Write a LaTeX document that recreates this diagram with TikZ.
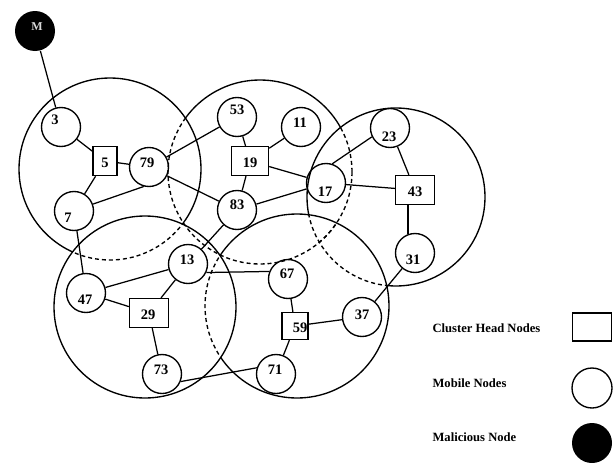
\documentclass[tikz,border=0pt]{standalone}
\usepackage{fontspec}
\setmainfont{Liberation Serif}
\newcommand{\holeclip}[2]{\clip (-10,-10) -- (630,-10) -- (630,480) -- (-10,480) -- cycle ([xshift=#2pt]#1) arc[start angle=0,end angle=-360,radius=#2];}
\begin{document}
\begin{tikzpicture}[x=1pt,y=-1pt,line width=1.2pt,
 big/.style={line width=1.35pt},
 dsh/.style={line width=1.35pt,dash pattern=on 4pt off 3pt},
 mob/.style={circle,draw,line width=1.35pt,minimum size=39pt,inner sep=0pt},
 ch/.style={rectangle,draw,line width=1.35pt,fill=white,minimum width=38pt,minimum height=29pt,inner sep=0pt},
 mal/.style={circle,fill=black,minimum size=40pt,inner sep=0pt},
 num/.style={font=\fontsize{14.5}{16}\selectfont\bfseries,inner sep=0pt},
 leg/.style={font=\fontsize{12.6}{14}\selectfont\bfseries,inner sep=0pt},
 link/.style={line width=1.25pt}]
\useasboundingbox (0,0) rectangle (616,463);
% cluster centres
\coordinate (cA) at (110,169);
\coordinate (cB) at (260,172);
\coordinate (cC) at (396,197);
\coordinate (cD) at (145,307);
\coordinate (cE) at (297,306);
% circle A: solid outside D, dashed inside D
\begin{scope}\holeclip{cD}{91}\draw[big] (cA) circle[radius=91];\end{scope}
\begin{scope}\clip (cD) circle[radius=91];\draw[dsh] (cA) circle[radius=91];\end{scope}
% circle B: dashed inside A, C, D, E
\begin{scope}\holeclip{cA}{91}\holeclip{cC}{89}\holeclip{cD}{91}\holeclip{cE}{92}\draw[big] (cB) circle[radius=92];\end{scope}
\begin{scope}\clip (cA) circle[radius=91];\draw[dsh] (cB) circle[radius=92];\end{scope}
\begin{scope}\clip (cC) circle[radius=89];\draw[dsh] (cB) circle[radius=92];\end{scope}
\begin{scope}\clip (cD) circle[radius=91];\draw[dsh] (cB) circle[radius=92];\end{scope}
\begin{scope}\clip (cE) circle[radius=92];\draw[dsh] (cB) circle[radius=92];\end{scope}
% circle C: dashed inside E
\begin{scope}\holeclip{cE}{92}\draw[big] (cC) circle[radius=89];\end{scope}
\begin{scope}\clip (cE) circle[radius=92];\draw[dsh] (cC) circle[radius=89];\end{scope}
% circle D: solid
\draw[big] (cD) circle[radius=91];
% circle E: dashed inside D
\begin{scope}\holeclip{cD}{91}\draw[big] (cE) circle[radius=92];\end{scope}
\begin{scope}\clip (cD) circle[radius=91];\draw[dsh] (cE) circle[radius=92];\end{scope}

% nodes
\node[mal] (nM) at (35,31) {};
\node[font=\fontsize{12}{14}\selectfont\bfseries,text=white!85!black,inner sep=0pt] (tM) at (37,27) {M};
\node[mob,label={[num,xshift=-6pt,yshift=7pt]center:3}] (n3) at (61,127) {};
\node[ch,minimum width=24pt,label={[num,yshift=-2pt]center:5}] (n5) at (105,161) {};
\node[mob,label={[num,xshift=-2pt,yshift=4pt]center:79}] (n79) at (149,167) {};
\node[mob,label={[num,xshift=-6pt,yshift=-7pt]center:7}] (n7) at (74,211) {};
\node[mob,label={[num,yshift=7pt]center:53}] (n53) at (237,117) {};
\node[mob,label={[num,xshift=-1pt,yshift=4pt]center:11}] (n11) at (301,127) {};
\node[ch,minimum width=37pt,label={[num,yshift=-2pt]center:19}] (n19) at (250,161) {};
\node[mob,label={[num,yshift=5pt]center:83}] (n83) at (237,210) {};
\node[mob,label={[num,xshift=-1pt,yshift=-9pt]center:23}] (n23) at (390,128) {};
\node[mob,label={[num,xshift=-1pt,yshift=-9pt]center:17}] (n17) at (326,183) {};
\node[ch,minimum width=39pt,label={[num,yshift=-2pt]center:43}] (n43) at (415,190) {};
\node[mob,label={[num,xshift=-2pt,yshift=-7pt]center:31}] (n31) at (415,253) {};
\node[mob,label={[num,yshift=2pt]center:37}] (n37) at (362,317) {};
\node[mob,label={[num,xshift=-1pt,yshift=4pt]center:13}] (n13) at (188,264) {};
\node[mob,label={[num,xshift=-1pt,yshift=-7pt]center:47}] (n47) at (86,293) {};
\node[ch,minimum width=39pt,label={[num,xshift=-1pt,yshift=-2pt]center:29}] (n29) at (149,313) {};
\node[mob,label={[num,xshift=-1pt,yshift=4pt]center:73}] (n73) at (162,374) {};
\node[mob,label={[num,xshift=-1pt,yshift=5pt]center:67}] (n67) at (288,279) {};
\node[ch,minimum width=26pt,minimum height=27pt,label={[num,xshift=5pt,yshift=-2pt]center:59}] (n59) at (295,326) {};
\node[mob,label={[num,xshift=-1pt,yshift=4pt]center:71}] (n71) at (276,374) {};

% links
\draw[link] (nM) -- (n3);
\draw[link] (n3) -- (n5);
\draw[link] (n5) -- (n79);
\draw[link] (n5) -- (n7);
\draw[link] (n7.20) -- (n79.255);
\draw[link] (n7) -- (n47);
\draw[link] (n79) -- (n53);
\draw[link] (n79) -- (n83);
\draw[link] (n53) -- (n19);
\draw[link] (n19) -- (n11);
\draw[link] (n19) -- (n83);
\draw[link] (n19) -- (n17);
\draw[link] (n83) -- (n17);
\draw[link] (n17.72) -- (n23.206);
\draw[link] (n17) -- (n43);
\draw[link] (n23) -- (n43);
\draw[link] (n31.110) -- (n31.110 |- n43.south);
\draw[link] (n31) -- (n37);
\draw[link] (n37) -- (n59);
\draw[link] (n59) -- (n67);
\draw[link] (n59) -- (n71);
\draw[link] (n73.-22) -- (n71.162);
\draw[link] (n73) -- (n29);
\draw[link] (n29) -- (n47);
\draw[link] (n29) -- (n13);
\draw[link] (n47) -- (n13);
\draw[link] (n13) -- (n83);
\draw[link] (n13.-25) -- (n67.158);

% legend
\node[leg,anchor=west] (l1) at (432,328) {Cluster Head Nodes};
\node[leg,anchor=west] (l2) at (432,383) {Mobile Nodes};
\node[leg,anchor=west] (l3) at (432,437) {Malicious Node};
\node[ch,minimum width=39pt,minimum height=28pt] (k1) at (592,327) {};
\node[mob,minimum size=40pt] (k2) at (592,388) {};
\node[mal] (k3) at (592,443) {};
\end{tikzpicture}
\end{document}
